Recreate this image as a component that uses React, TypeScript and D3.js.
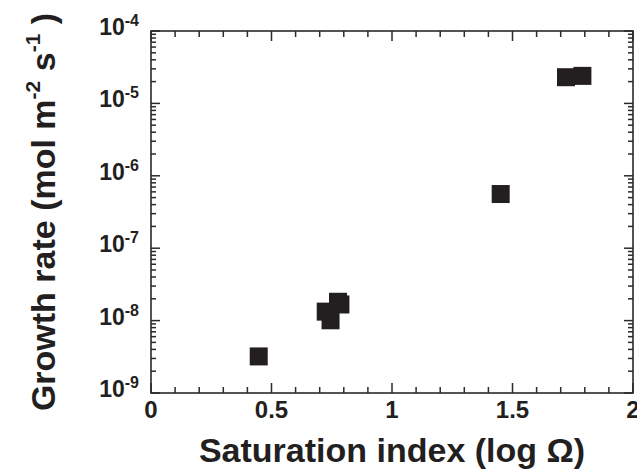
import * as d3 from "d3";

// saturation index (log Ω) and growth rate (mol m-2 s-1)
const satIndex = [0.447, 0.725, 0.745, 0.776, 0.786, 1.451, 1.722, 1.79];
const growthRate = [3.2e-9, 1.33e-8, 1.01e-8, 1.82e-8, 1.67e-8, 5.6e-7, 2.3e-5, 2.4e-5];

const xMajor = [0, 0.5, 1, 1.5, 2];
const xLabels = ["0", "0.5", "1", "1.5", "2"];
const yDecades = [-9, -8, -7, -6, -5, -4];

const W = 637;
const H = 470;
const margin = { top: 31, right: 4, bottom: 77, left: 151 };
const ink = "#231f20";
const axisInk = "#2a2a2a";
const font = "'Liberation Sans', Arial, Helvetica, sans-serif";

const App = () => {
  const x = d3.scaleLinear().domain([0, 2]).range([margin.left, W - margin.right]);
  const y = d3.scaleLog().domain([1e-9, 1e-4]).range([H - margin.bottom, margin.top]);

  const [x0, x1] = x.range();
  const [y0, y1] = y.range(); // y0 bottom, y1 top

  const xMinor = d3.range(0, 21).map((i) => i / 10).filter((v) => !xMajor.includes(v));
  const yTicks = y.ticks();
  const isDecade = (v: number) => Math.abs(Math.log10(v) - Math.round(Math.log10(v))) < 1e-6;

  const sq = 18;
  const tw = 1.5;

  // inward ticks on all four sides
  const segs: { k: string; x1: number; y1: number; x2: number; y2: number }[] = [];
  xMajor.forEach((v) => {
    segs.push({ k: "xb" + v, x1: x(v), y1: y0, x2: x(v), y2: y0 - 10 });
    segs.push({ k: "xt" + v, x1: x(v), y1: y1, x2: x(v), y2: y1 + 10 });
  });
  xMinor.forEach((v) => {
    segs.push({ k: "xbm" + v, x1: x(v), y1: y0, x2: x(v), y2: y0 - 6 });
    segs.push({ k: "xtm" + v, x1: x(v), y1: y1, x2: x(v), y2: y1 + 6 });
  });
  yTicks.forEach((v, i) => {
    const len = isDecade(v) ? 9 : 5;
    segs.push({ k: "yl" + i, x1: x0, y1: y(v), x2: x0 + len, y2: y(v) });
    segs.push({ k: "yr" + i, x1: x1, y1: y(v), x2: x1 - len, y2: y(v) });
  });

  return (
    <svg width={W} height={H} style={{ position: "absolute", left: 0, top: 0 }} fontFamily={font} fontWeight="bold">
      <rect x={0} y={0} width={W} height={H} fill="white" />

      {/* frame */}
      <rect x={x0} y={y1} width={x1 - x0} height={y0 - y1} fill="none" stroke={axisInk} strokeWidth={1.6} />

      {segs.map((s) => (
        <line key={s.k} x1={s.x1} y1={s.y1} x2={s.x2} y2={s.y2} stroke={axisInk} strokeWidth={tw} />
      ))}

      {/* x tick labels */}
      {xMajor.map((v, i) => (
        <text key={"xl" + v} x={x(v)} y={y0 + 25} textAnchor="middle" fontSize={24} fill={ink}>
          {xLabels[i]}
        </text>
      ))}

      {/* y tick labels */}
      {yDecades.map((e) => (
        <text key={"yl" + e} x={x0 - 12} y={y(Math.pow(10, e)) + 4} textAnchor="end" fontSize={23} fill={ink}>
          10
          <tspan fontSize={16} dy={-9}>
            {e}
          </tspan>
        </text>
      ))}

      {/* points */}
      {satIndex.map((v, i) => (
        <rect key={"p" + i} x={x(v) - sq / 2} y={y(growthRate[i]) - sq / 2} width={sq} height={sq} fill={ink} />
      ))}

      {/* axis titles */}
      <text x={(x0 + x1) / 2} y={462} textAnchor="middle" fontSize={34} fill={ink}>
        Saturation index (log Ω)
      </text>
      <text transform={`translate(55,${(y0 + y1) / 2}) rotate(-90)`} textAnchor="middle" fontSize={34} fill={ink}>
        Growth rate (mol m
        <tspan fontSize={21} dy={-15}>-2</tspan>
        <tspan dy={15}> s</tspan>
        <tspan fontSize={21} dy={-15}>-1</tspan>
        <tspan dy={15}> )</tspan>
      </text>
    </svg>
  );
};

export default App;
